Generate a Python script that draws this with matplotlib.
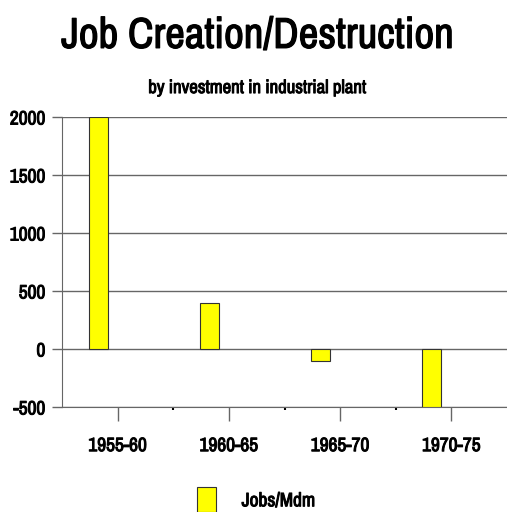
import matplotlib
matplotlib.use('Agg')
import matplotlib.pyplot as plt
import matplotlib.patheffects as pe
from matplotlib import font_manager
import numpy as np

periods = ['1955-60', '1960-65', '1965-70', '1970-75']
jobs_per_mdm = [2000, 400, -100, -500]

names = {f.name for f in font_manager.fontManager.ttflist}
font = 'Archivo Narrow' if 'Archivo Narrow' in names else 'DejaVu Sans'
plt.rcParams['font.family'] = [font, 'DejaVu Sans']
plt.rcParams['axes.unicode_minus'] = False

# fake bold: the narrow font only has a regular weight
heavy = [pe.withStroke(linewidth=0.7, foreground='black')]

fig = plt.figure(figsize=(5.07, 5.12), dpi=100)
ax = fig.add_axes([0.1223, 0.2051, 0.8777, 0.5664])

x = np.arange(len(periods))
ax.bar(x - 0.175, jobs_per_mdm, width=0.17, color='yellow', edgecolor='#333333',
       linewidth=0.8, label='Jobs/Mdm', zorder=3)

ax.set_xlim(-0.5, 3.5)
ax.set_ylim(-500, 2000)
ax.set_yticks([-500, 0, 500, 1000, 1500, 2000])
ax.grid(axis='y', color='#666666', linewidth=1, zorder=1)
ax.set_xticks(x)
ax.set_xticklabels(periods)
ax.set_xticks([0.5, 1.5, 2.5], minor=True)
ax.tick_params(axis='x', which='major', length=10, width=1, color='#666666', pad=11)
ax.tick_params(axis='x', which='minor', length=2, width=1.5, color='black')
ax.tick_params(axis='y', length=7, width=1, color='#666666', pad=5)
for lab in ax.get_xticklabels() + ax.get_yticklabels():
    lab.set_fontsize(14)
    lab.set_path_effects(heavy)

for s in ['top', 'right']:
    ax.spines[s].set_visible(False)
ax.spines['left'].set_color('#666666')
ax.spines['bottom'].set_color('#666666')

fig.text(0.508, 0.93, 'Job Creation/Destruction', ha='center', va='center', fontsize=31,
         path_effects=[pe.withStroke(linewidth=0.9, foreground='black')])
fig.text(0.508, 0.828, 'by investment in industrial plant', ha='center', va='center',
         fontsize=13.5, path_effects=heavy)

leg = fig.legend(loc='lower center', bbox_to_anchor=(0.505, -0.035), frameon=False,
                 handlelength=1.0, handleheight=1.6, handletextpad=1.3,
                 prop={'size': 14})
for t in leg.get_texts():
    t.set_path_effects(heavy)

fig.savefig('out.png', dpi=100)
